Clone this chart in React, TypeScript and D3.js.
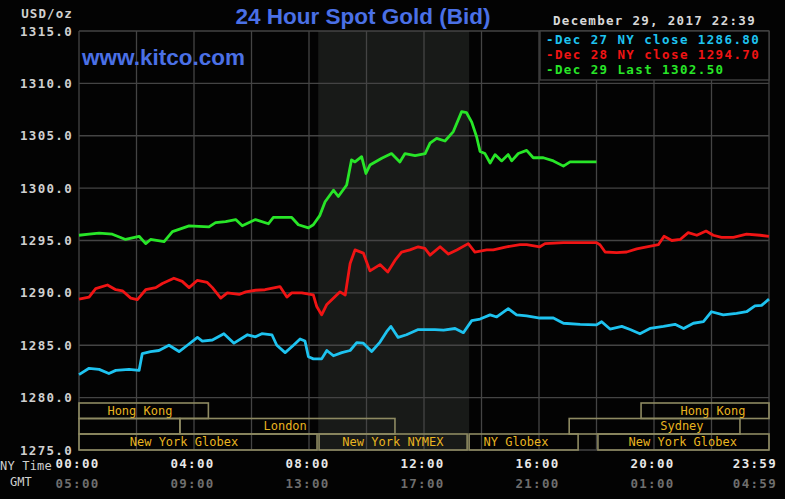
import React from "react";
import * as d3 from "d3";

const W = 785;
const H = 499;

const yTicks = [1275, 1280, 1285, 1290, 1295, 1300, 1305, 1310, 1315];
const xGridHours = [0, 2, 4, 6, 8, 10, 12, 14, 16, 18, 20, 22, 24];
const nyLabels = ["00:00", "04:00", "08:00", "12:00", "16:00", "20:00", "23:59"];
const gmtLabels = ["05:00", "09:00", "13:00", "17:00", "21:00", "01:00", "04:59"];
const labelHours = [0, 4, 8, 12, 16, 20, 24];

const nymexShade = [8.32, 13.57];

// sessions: [row, startHour, endHour, labelHour, name]
const sessionRows: [number, number, number, number, string][] = [
  [0, 0, 4.5, 2.12, "Hong Kong"],
  [0, 19.55, 24, 22.05, "Hong Kong"],
  [1, 0, 3.51, 1.75, ""],
  [1, 3.51, 10.99, 7.17, "London"],
  [1, 17.05, 22.99, 20.97, "Sydney"],
  [2, 0, 8.28, 3.65, "New York Globex"],
  [2, 8.35, 13.5, 10.92, "New York NYMEX"],
  [2, 13.57, 17.36, 15.2, "NY Globex"],
  [2, 18.05, 24, 21.0, "New York Globex"],
];

const dec27: [number, number][] = [
  [0, 1282.2], [0.35, 1282.8], [0.7, 1282.7], [1.04, 1282.3], [1.28, 1282.6], [1.74, 1282.7],
  [2.09, 1282.6], [2.2, 1284.2], [2.49, 1284.4], [2.78, 1284.5], [3.13, 1285.0], [3.48, 1284.4],
  [3.77, 1285.0], [4.12, 1285.75], [4.29, 1285.4], [4.64, 1285.5], [5.04, 1286.1], [5.39, 1285.2],
  [5.86, 1286.0], [6.14, 1285.8], [6.36, 1286.1], [6.71, 1286.0], [6.88, 1285.0], [7.17, 1284.3],
  [7.46, 1285.0], [7.69, 1285.6], [7.86, 1285.4], [7.98, 1283.9], [8.15, 1283.7], [8.44, 1283.7],
  [8.62, 1284.5], [8.85, 1284.0], [9.14, 1284.3], [9.43, 1284.5], [9.66, 1285.25], [9.89, 1285.2],
  [10.18, 1284.4], [10.47, 1285.3], [10.7, 1286.3], [10.85, 1286.8], [11.1, 1285.75], [11.39, 1286.0],
  [11.8, 1286.5], [12.38, 1286.5], [12.68, 1286.45], [13.08, 1286.6], [13.37, 1286.2], [13.66, 1287.35],
  [13.95, 1287.5], [14.3, 1287.9], [14.53, 1287.7], [14.93, 1288.5], [15.22, 1287.9], [15.57, 1287.8],
  [16.03, 1287.6], [16.5, 1287.6], [16.85, 1287.1], [17.43, 1287.0], [18.0, 1286.95], [18.18, 1287.25],
  [18.47, 1286.55], [18.88, 1286.8], [19.17, 1286.5], [19.51, 1286.1], [19.86, 1286.6], [20.33, 1286.8],
  [20.73, 1287.0], [21.03, 1286.6], [21.37, 1287.1], [21.72, 1287.25], [22.0, 1288.2], [22.41, 1287.9],
  [22.87, 1288.05], [23.22, 1288.2], [23.51, 1288.75], [23.74, 1288.8], [24.0, 1289.4],
];

const dec28: [number, number][] = [
  [0, 1289.4], [0.35, 1289.6], [0.58, 1290.4], [0.99, 1290.75], [1.28, 1290.3], [1.51, 1290.2],
  [1.8, 1289.5], [2.03, 1289.35], [2.32, 1290.3], [2.67, 1290.5], [2.9, 1290.9], [3.3, 1291.4],
  [3.59, 1291.1], [3.83, 1290.5], [4.12, 1291.2], [4.46, 1291.0], [4.64, 1290.5], [4.93, 1289.5],
  [5.16, 1290.0], [5.57, 1289.85], [5.8, 1290.1], [6.14, 1290.25], [6.47, 1290.3], [6.99, 1290.6],
  [7.23, 1289.6], [7.4, 1290.0], [7.75, 1290.0], [8.15, 1289.8], [8.27, 1288.7], [8.44, 1287.9],
  [8.62, 1288.9], [9.08, 1290.1], [9.26, 1289.8], [9.43, 1292.8], [9.6, 1294.1], [9.89, 1293.8],
  [10.12, 1292.1], [10.47, 1292.7], [10.74, 1292.0], [10.99, 1293.1], [11.22, 1293.9], [11.51, 1294.1],
  [11.8, 1294.4], [12.03, 1294.25], [12.21, 1293.6], [12.56, 1294.4], [12.85, 1293.7], [13.14, 1294.1],
  [13.54, 1294.7], [13.77, 1293.9], [14.18, 1294.1], [14.41, 1294.1], [14.87, 1294.4], [15.34, 1294.6],
  [15.57, 1294.6], [16.03, 1294.4], [16.21, 1294.7], [16.85, 1294.8], [18.0, 1294.8], [18.12, 1294.6],
  [18.3, 1293.9], [18.7, 1293.85], [19.05, 1293.9], [19.4, 1294.2], [19.75, 1294.4], [20.15, 1294.6],
  [20.35, 1295.4], [20.62, 1295.0], [20.91, 1295.1], [21.19, 1295.75], [21.49, 1295.5], [21.81, 1295.9],
  [22.06, 1295.5], [22.35, 1295.3], [22.76, 1295.3], [23.22, 1295.6], [23.69, 1295.5], [24.0, 1295.4],
];

const dec29: [number, number][] = [
  [0, 1295.5], [0.35, 1295.6], [0.7, 1295.7], [1.16, 1295.6], [1.62, 1295.1], [2.09, 1295.4],
  [2.32, 1294.7], [2.49, 1295.1], [2.96, 1294.9], [3.25, 1295.85], [3.83, 1296.4], [4.17, 1296.35],
  [4.52, 1296.3], [4.75, 1296.7], [5.1, 1296.8], [5.45, 1297.0], [5.68, 1296.4], [6.14, 1297.0],
  [6.59, 1296.6], [6.76, 1297.2], [7.4, 1297.2], [7.63, 1296.5], [7.98, 1296.2], [8.15, 1296.5],
  [8.38, 1297.4], [8.56, 1298.7], [8.85, 1299.8], [9.02, 1299.2], [9.31, 1300.3], [9.48, 1302.7],
  [9.6, 1302.5], [9.83, 1303.0], [9.98, 1301.4], [10.12, 1302.2], [10.53, 1302.85], [10.87, 1303.3],
  [11.16, 1302.5], [11.34, 1303.3], [11.69, 1303.1], [12.04, 1303.3], [12.21, 1304.3], [12.44, 1304.75],
  [12.73, 1304.5], [13.02, 1305.4], [13.31, 1307.3], [13.48, 1307.2], [13.66, 1306.3], [13.83, 1304.9],
  [13.95, 1303.5], [14.12, 1303.3], [14.3, 1302.4], [14.47, 1303.2], [14.7, 1302.6], [14.93, 1303.2],
  [15.05, 1302.6], [15.28, 1303.3], [15.57, 1303.6], [15.8, 1302.9], [16.15, 1302.9], [16.5, 1302.6],
  [16.85, 1302.1], [17.08, 1302.5], [18.0, 1302.5],
];

const legendItems: [string, string][] = [
  ["-Dec 27 NY close 1286.80", "#1ec3f0"],
  ["-Dec 28 NY close 1294.70", "#f01414"],
  ["-Dec 29 Last 1302.50", "#28e628"],
];

const MONO = "'DejaVu Sans Mono', 'Liberation Mono', monospace";
const SANS = "'Liberation Sans', Arial, sans-serif";

export default function App() {
  const left = 79, right = 769, top = 31, bottom = 450;
  const x = d3.scaleLinear().domain([0, 24]).range([left, right]);
  const y = d3.scaleLinear().domain([1275, 1315]).range([bottom, top]);
  const line = d3
    .line<[number, number]>()
    .x((d) => x(d[0]))
    .y((d) => y(d[1]));
  const rowTop = [403, 418.5, 434];
  const rowH = [15.5, 15.5, 16];
  const series: [[number, number][], string][] = [
    [dec27, legendItems[0][1]],
    [dec28, legendItems[1][1]],
    [dec29, legendItems[2][1]],
  ];

  return (
    <svg
      width={W}
      height={H}
      style={{ position: "absolute", left: 0, top: 0, background: "#030303" }}
    >
      <rect x={0} y={0} width={W} height={H} fill="#030303" />
      <rect
        x={x(nymexShade[0])}
        y={top}
        width={x(nymexShade[1]) - x(nymexShade[0])}
        height={bottom - top}
        fill="#181a18"
      />
      {yTicks.map((t) => (
        <line key={"h" + t} x1={left} x2={right} y1={y(t)} y2={y(t)} stroke="#444" strokeWidth={1.3} />
      ))}
      {xGridHours.map((h) => (
        <line key={"v" + h} x1={x(h)} x2={x(h)} y1={top} y2={bottom} stroke="#444" strokeWidth={1.3} />
      ))}
      {sessionRows.map(([row, s, e, lh, name], i) => (
        <g key={"s" + i}>
          <rect
            x={x(s)}
            y={rowTop[row]}
            width={x(e) - x(s)}
            height={rowH[row]}
            fill="none"
            stroke="#8e8a62"
            strokeWidth={1.6}
          />
          {name && (
            <text
              x={x(lh)}
              y={rowTop[row] + rowH[row] / 2 + 0.5}
              textAnchor="middle"
              dominantBaseline="middle"
              fill="#e8b420"
              fontFamily={MONO}
              fontSize={12}
            >
              {name}
            </text>
          )}
        </g>
      ))}
      {series.map(([data, color], i) => (
        <path
          key={"l" + i}
          d={line(data) || ""}
          fill="none"
          stroke={color}
          strokeWidth={2.8}
          strokeLinejoin="round"
        />
      ))}
      {yTicks.map((t) => (
        <text
          key={"yt" + t}
          x={73}
          y={y(t)}
          textAnchor="end"
          dominantBaseline="central"
          fill="#d0d0d0"
          fontFamily={MONO}
          fontWeight="bold"
          fontSize={12.5}
          letterSpacing={1.3}
        >
          {t.toFixed(1)}
        </text>
      ))}
      <text x={73} y={13} textAnchor="end" dominantBaseline="central" fill="#d0d0d0" fontFamily={MONO} fontWeight="bold" fontSize={12.5} letterSpacing={1.1}>
        USD/oz
      </text>
      <text x={363} y={16} textAnchor="middle" dominantBaseline="central" fill="#4a70e6" fontFamily={SANS} fontWeight="bold" fontSize={22.5}>
        24 Hour Spot Gold (Bid)
      </text>
      <text x={82} y={57} dominantBaseline="central" fill="#4a70e6" fontFamily={SANS} fontWeight="bold" fontSize={22.5}>
        www.kitco.com
      </text>
      <text x={756} y={20} textAnchor="end" dominantBaseline="central" fill="#d8d8d8" fontFamily={MONO} fontWeight="bold" fontSize={12.5} letterSpacing={1.3}>
        December 29, 2017 22:39
      </text>
      <rect x={540} y={top} width={right - 540} height={49} fill="#030303" stroke="#444" strokeWidth={1.3} />
      {legendItems.map(([label, color], i) => (
        <text
          key={"lg" + i}
          x={546}
          y={39 + i * 15.3}
          dominantBaseline="central"
          fill={color}
          fontFamily={MONO}
          fontWeight="bold"
          fontSize={12.5}
          letterSpacing={1.4}
        >
          {label}
        </text>
      ))}
      <text x={0} y={466} dominantBaseline="central" fill="#d0d0d0" fontFamily={MONO} fontSize={12} letterSpacing={0.2}>
        NY Time
      </text>
      <text x={10} y={482} dominantBaseline="central" fill="#d0d0d0" fontFamily={MONO} fontSize={12}>
        GMT
      </text>
      {labelHours.map((h, i) => {
        const last = i === labelHours.length - 1;
        return (
          <g key={"xl" + i}>
            <text
              x={last ? 777 : x(h) - 1.5}
              y={463}
              textAnchor={last ? "end" : "middle"}
              dominantBaseline="central"
              fill="#e8e8e8"
              fontFamily={MONO}
              fontWeight="bold"
              fontSize={12.5}
              letterSpacing={1.3}
            >
              {nyLabels[i]}
            </text>
            <text
              x={last ? 777 : x(h) - 1.5}
              y={483}
              textAnchor={last ? "end" : "middle"}
              dominantBaseline="central"
              fill="#6e6e6e"
              fontFamily={MONO}
              fontWeight="bold"
              fontSize={12.5}
              letterSpacing={1.3}
            >
              {gmtLabels[i]}
            </text>
          </g>
        );
      })}
    </svg>
  );
}
